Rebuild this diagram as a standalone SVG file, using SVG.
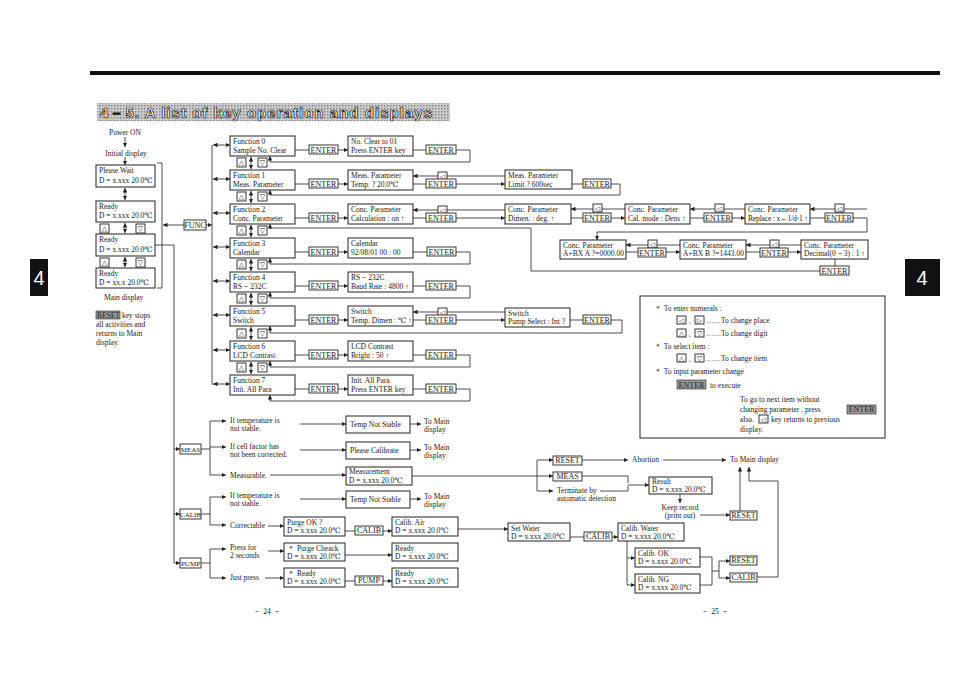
<svg xmlns="http://www.w3.org/2000/svg" width="954" height="674" viewBox="0 0 954 674">
<defs>
<marker id="a" viewBox="0 0 6 6" refX="6" refY="3" markerWidth="4.5" markerHeight="4.5" markerUnits="userSpaceOnUse" orient="auto-start-reverse"><path d="M0,0 L6,3 L0,6 z" fill="#222"/></marker>
<pattern id="dots" width="3" height="3" patternUnits="userSpaceOnUse"><rect width="3" height="3" fill="#ccc"/><rect width="1.5" height="1.5" fill="#888"/></pattern>
</defs>
<style>
text{font-family:"Liberation Serif","DejaVu Serif",serif;font-size:7.5px;fill:#222}
.bx{fill:#fff;stroke:#222;stroke-width:1}
.k{fill:#fff;stroke:#222;stroke-width:0.9}
.kt{text-anchor:middle;font-size:8px}
.g{font-family:"DejaVu Sans",sans-serif;font-size:7px;text-anchor:middle}
.c path,.c line{fill:none;stroke:#222;stroke-width:0.8}
.ar{marker-end:url(#a)}
.ab{marker-start:url(#a);marker-end:url(#a)}
</style>
<rect width="954" height="674" fill="#fff"/>
<rect x="90" y="71" width="850" height="4" fill="#111"/>
<rect x="97" y="103" width="353" height="18" fill="url(#dots)"/>
<text x="100" y="118" style="font-family:'Liberation Sans',sans-serif;font-size:15px;font-weight:bold;fill:#fff;stroke:#111;stroke-width:0.7" textLength="332">4－5. A list of key operation and displays</text>
<rect x="30" y="259" width="18" height="37" fill="#111"/><text x="39" y="285" style="font-family:'Liberation Sans',sans-serif;font-size:20px;fill:#fff;text-anchor:middle">4</text>
<rect x="905" y="259" width="35" height="37" fill="#111"/><text x="922" y="285" style="font-family:'Liberation Sans',sans-serif;font-size:20px;fill:#fff;text-anchor:middle">4</text>

<g class="c" id="connectors">
<line class="ar" x1="125" y1="137" x2="125" y2="147"/>
<line class="ar" x1="125" y1="157" x2="125" y2="165"/>
<line class="ab" x1="125" y1="188" x2="125" y2="200"/>
<line class="ab" x1="125" y1="223" x2="125" y2="233"/>
<line class="ab" x1="125" y1="257" x2="125" y2="267"/>
<path d="M157,163 H162 V288 H157"/>
<path d="M155,245 H174 V563"/>
<line class="ar" x1="184" y1="225" x2="163" y2="225"/>
<line class="ar" x1="206" y1="225" x2="212" y2="225"/>
<line x1="212" y1="145" x2="212" y2="385"/>
<line class="ab" x1="213" y1="145" x2="230" y2="145"/>
<line class="ab" x1="213" y1="179" x2="230" y2="179"/>
<line class="ab" x1="213" y1="213" x2="230" y2="213"/>
<line class="ab" x1="213" y1="247" x2="230" y2="247"/>
<line class="ab" x1="213" y1="281" x2="230" y2="281"/>
<line class="ab" x1="213" y1="315" x2="230" y2="315"/>
<line class="ab" x1="213" y1="350" x2="230" y2="350"/>
<line class="ab" x1="213" y1="384" x2="230" y2="384"/>
<line class="ab" x1="251" y1="157" x2="251" y2="169"/>
<line class="ab" x1="251" y1="191" x2="251" y2="203"/>
<line class="ab" x1="251" y1="225" x2="251" y2="237"/>
<line class="ab" x1="251" y1="259" x2="251" y2="271"/>
<line class="ab" x1="251" y1="293" x2="251" y2="305"/>
<line class="ab" x1="251" y1="327" x2="251" y2="340"/>
<line class="ab" x1="251" y1="362" x2="251" y2="374"/>
<line x1="295" y1="150" x2="309" y2="150"/><line class="ar" x1="338" y1="150" x2="348" y2="150"/>
<line x1="413" y1="150" x2="426" y2="150"/><path class="ar" d="M456,150 H470 V162 H270 V156"/>
<line x1="295" y1="184" x2="309" y2="184"/><line class="ar" x1="338" y1="184" x2="348" y2="184"/>
<line class="ar" x1="505" y1="176" x2="413" y2="176"/>
<line x1="413" y1="184" x2="426" y2="184"/><line class="ar" x1="456" y1="184" x2="505" y2="184"/>
<line x1="572" y1="184" x2="583" y2="184"/><path class="ar" d="M611,184 H620 V195 H270 V190"/>
<line x1="295" y1="218" x2="309" y2="218"/><line class="ar" x1="338" y1="218" x2="348" y2="218"/>
<line class="ar" x1="505" y1="210" x2="413" y2="210"/>
<line x1="413" y1="218" x2="426" y2="218"/><line class="ar" x1="456" y1="218" x2="505" y2="218"/>
<line class="ar" x1="625" y1="209" x2="571" y2="209"/>
<line class="ar" x1="571" y1="218" x2="625" y2="218"/>
<line class="ar" x1="745" y1="209" x2="690" y2="209"/>
<line class="ar" x1="690" y1="218" x2="745" y2="218"/>
<line class="ar" x1="867" y1="209" x2="810" y2="209"/>
<line x1="810" y1="218" x2="825" y2="218"/>
<path class="ar" d="M853,218 H867 V232 H597 V240"/>
<line class="ar" x1="680" y1="245" x2="626" y2="245"/>
<line class="ar" x1="626" y1="252" x2="680" y2="252"/>
<line class="ar" x1="801" y1="245" x2="746" y2="245"/>
<line class="ar" x1="746" y1="252" x2="801" y2="252"/>
<line x1="835" y1="259" x2="835" y2="266"/>
<path class="ar" d="M820,271 H531 V228 H270 V224"/>
<line x1="295" y1="252" x2="309" y2="252"/><line class="ar" x1="338" y1="252" x2="348" y2="252"/>
<line x1="413" y1="252" x2="427" y2="252"/><path class="ar" d="M456,252 H470 V264 H270 V258"/>
<line x1="295" y1="286" x2="309" y2="286"/><line class="ar" x1="338" y1="286" x2="348" y2="286"/>
<line x1="413" y1="286" x2="426" y2="286"/><path class="ar" d="M456,286 H470 V298 H270 V292"/>
<line x1="295" y1="320" x2="309" y2="320"/><line class="ar" x1="338" y1="320" x2="348" y2="320"/>
<line class="ar" x1="505" y1="312" x2="413" y2="312"/>
<line x1="413" y1="320" x2="426" y2="320"/><line class="ar" x1="456" y1="320" x2="505" y2="320"/>
<line x1="570" y1="320" x2="583" y2="320"/><path class="ar" d="M611,320 H622 V333 H270 V326"/>
<line x1="295" y1="355" x2="309" y2="355"/><line class="ar" x1="338" y1="355" x2="348" y2="355"/>
<line x1="413" y1="355" x2="426" y2="355"/><path class="ar" d="M456,355 H470 V367 H270 V361"/>
<line x1="295" y1="389" x2="309" y2="389"/><line class="ar" x1="338" y1="389" x2="348" y2="389"/>
<line x1="413" y1="389" x2="426" y2="389"/><path class="ar" d="M456,389 H470 V401 H270 V395"/>
<line class="ar" x1="174" y1="449" x2="180" y2="449"/>
<line class="ar" x1="174" y1="514" x2="180" y2="514"/>
<line class="ar" x1="174" y1="563" x2="180" y2="563"/>
<path d="M201,449 H210"/><path d="M210,421 V475"/>
<line class="ar" x1="210" y1="421" x2="226" y2="421"/>
<line class="ar" x1="210" y1="447" x2="226" y2="447"/>
<line class="ar" x1="210" y1="475" x2="226" y2="475"/>
<line class="ar" x1="300" y1="424" x2="346" y2="424"/>
<line class="ar" x1="300" y1="450" x2="346" y2="450"/>
<line class="ar" x1="270" y1="475" x2="346" y2="475"/>
<line class="ar" x1="410" y1="424" x2="421" y2="424"/>
<line class="ar" x1="410" y1="450" x2="421" y2="450"/>
<path d="M412,476 H537"/><path d="M537,460 V491"/>
<line class="ar" x1="537" y1="460" x2="553" y2="460"/>
<line class="ar" x1="537" y1="476" x2="553" y2="476"/>
<line class="ar" x1="537" y1="491" x2="553" y2="491"/>
<line class="ar" x1="582" y1="460" x2="628" y2="460"/>
<line class="ar" x1="663" y1="460" x2="726" y2="460"/>
<path d="M582,476 H628 V483"/><path d="M600,491 H628 V486"/>
<line class="ar" x1="628" y1="485" x2="649" y2="485"/>
<line class="ar" x1="680" y1="494" x2="680" y2="503"/>
<line class="ar" x1="700" y1="515" x2="730" y2="515"/>
<line class="ar" x1="740" y1="511" x2="740" y2="467"/>
<path class="ar" d="M757,577 H778 V481 H749 V467"/>
<path d="M201,514 H210"/><path d="M210,497 V525"/>
<line class="ar" x1="210" y1="497" x2="226" y2="497"/>
<line class="ar" x1="210" y1="525" x2="226" y2="525"/>
<line class="ar" x1="300" y1="499" x2="346" y2="499"/>
<line class="ar" x1="410" y1="499" x2="421" y2="499"/>
<line class="ar" x1="268" y1="526" x2="284" y2="526"/>
<line x1="345" y1="531" x2="355" y2="531"/><line class="ar" x1="383" y1="531" x2="392" y2="531"/>
<line class="ar" x1="458" y1="529" x2="508" y2="529"/>
<line x1="570" y1="537" x2="584" y2="537"/><line class="ar" x1="612" y1="537" x2="618" y2="537"/>
<path d="M627,541 V585"/>
<line class="ar" x1="627" y1="558" x2="635" y2="558"/>
<line class="ar" x1="627" y1="585" x2="635" y2="585"/>
<path d="M700,557 H712 V585 H700"/><path d="M712,571 H719"/><path d="M719,561 V578"/>
<line class="ar" x1="719" y1="561" x2="730" y2="561"/>
<line class="ar" x1="719" y1="578" x2="730" y2="578"/>
<path d="M201,563 H210"/><path d="M210,549 V578"/>
<line class="ar" x1="210" y1="549" x2="226" y2="549"/>
<line class="ar" x1="210" y1="578" x2="226" y2="578"/>
<line class="ar" x1="268" y1="551" x2="284" y2="551"/>
<line class="ar" x1="265" y1="578" x2="284" y2="578"/>
<line class="ar" x1="345" y1="555" x2="392" y2="555"/>
<line x1="345" y1="581" x2="355" y2="581"/><line class="ar" x1="383" y1="581" x2="392" y2="581"/>
</g>

<g id="left">
<text x="125" y="135" text-anchor="middle">Power ON</text>
<text x="126" y="156" text-anchor="middle">Initial display</text>
<g id="n-wait"><rect class="bx" x="96" y="165" width="59" height="22"/><text x="99" y="173">Please Wait</text><text x="99" y="183">D = x.xxx  20.0℃</text></g>
<g id="n-ready1"><rect class="bx" x="96" y="201" width="59" height="21"/><text x="99" y="209">Ready</text><text x="99" y="218">D = x.xxx  20.0℃</text></g>
<rect class="k" x="100" y="224" width="9" height="9"/><text class="g" x="104.5" y="231">△</text>
<rect class="k" x="136" y="224" width="9" height="9"/><text class="g" x="140.5" y="231">▽</text>
<g id="n-ready2"><rect class="bx" x="96" y="234" width="59" height="22"/><text x="99" y="242">Ready</text><text x="99" y="252">D = x.xxx  20.0℃</text></g>
<rect class="k" x="100" y="258" width="9" height="9"/><text class="g" x="104.5" y="265">△</text>
<rect class="k" x="136" y="258" width="9" height="9"/><text class="g" x="140.5" y="265">▽</text>
<g id="n-ready3"><rect class="bx" x="96" y="268" width="59" height="20"/><text x="99" y="276">Ready</text><text x="99" y="285">D = xx.x  20.0℃</text></g>
<text x="104" y="300">Main display</text>
<rect x="96" y="311" width="24" height="8" fill="#999" stroke="#222" stroke-width="0.6"/>
<text x="97" y="318">RESET</text><text x="122" y="318">key stops</text>
<text x="96" y="327">all activities and</text><text x="96" y="336">returns to Main</text><text x="96" y="345">display.</text>
<g id="n-func"><rect class="k" x="184" y="220" width="22" height="10"/><text class="kt" x="195" y="228">FUNC</text></g>
</g>

<g id="functions">
<g id="f0"><rect class="bx" x="230" y="136" width="65" height="20"/><text x="233" y="143.5">Function 0</text><text x="233" y="152.5">Sample No. Clear</text></g>
<g id="f1"><rect class="bx" x="230" y="170" width="65" height="20"/><text x="233" y="177.5">Function 1</text><text x="233" y="186.5">Meas. Parameter</text></g>
<g id="f2"><rect class="bx" x="230" y="204" width="65" height="20"/><text x="233" y="211.5">Function 2</text><text x="233" y="220.5">Conc. Parameter</text></g>
<g id="f3"><rect class="bx" x="230" y="238" width="65" height="20"/><text x="233" y="245.5">Function 3</text><text x="233" y="254.5">Calendar</text></g>
<g id="f4"><rect class="bx" x="230" y="272" width="65" height="20"/><text x="233" y="279.5">Function 4</text><text x="233" y="288.5">RS－232C</text></g>
<g id="f5"><rect class="bx" x="230" y="306" width="65" height="20"/><text x="233" y="313.5">Function 5</text><text x="233" y="322.5">Switch</text></g>
<g id="f6"><rect class="bx" x="230" y="341" width="65" height="20"/><text x="233" y="348.5">Function 6</text><text x="233" y="357.5">LCD Contrast</text></g>
<g id="f7"><rect class="bx" x="230" y="375" width="65" height="20"/><text x="233" y="382.5">Function 7</text><text x="233" y="391.5">Init. All Para</text></g>
<g id="updown">
<rect class="k" x="237" y="158" width="9" height="9"/><text class="g" x="241.5" y="165">△</text><rect class="k" x="258" y="158" width="9" height="9"/><text class="g" x="262.5" y="165">▽</text>
<rect class="k" x="237" y="192" width="9" height="9"/><text class="g" x="241.5" y="199">△</text><rect class="k" x="258" y="192" width="9" height="9"/><text class="g" x="262.5" y="199">▽</text>
<rect class="k" x="237" y="226" width="9" height="9"/><text class="g" x="241.5" y="233">△</text><rect class="k" x="258" y="226" width="9" height="9"/><text class="g" x="262.5" y="233">▽</text>
<rect class="k" x="237" y="260" width="9" height="9"/><text class="g" x="241.5" y="267">△</text><rect class="k" x="258" y="260" width="9" height="9"/><text class="g" x="262.5" y="267">▽</text>
<rect class="k" x="237" y="294" width="9" height="9"/><text class="g" x="241.5" y="301">△</text><rect class="k" x="258" y="294" width="9" height="9"/><text class="g" x="262.5" y="301">▽</text>
<rect class="k" x="237" y="329" width="9" height="9"/><text class="g" x="241.5" y="336">△</text><rect class="k" x="258" y="329" width="9" height="9"/><text class="g" x="262.5" y="336">▽</text>
<rect class="k" x="237" y="363" width="9" height="9"/><text class="g" x="241.5" y="370">△</text><rect class="k" x="258" y="363" width="9" height="9"/><text class="g" x="262.5" y="370">▽</text>
</g>
</g>

<g id="keys">
<rect class="k" x="309" y="145" width="29" height="9"/><text class="kt" x="323.5" y="152.5">ENTER</text>
<rect class="k" x="426" y="145" width="30" height="9"/><text class="kt" x="441" y="152.5">ENTER</text>
<rect class="k" x="309" y="179" width="29" height="9"/><text class="kt" x="323.5" y="186.5">ENTER</text>
<rect class="k" x="438" y="172" width="9" height="8"/><text class="g" x="442.5" y="179">◁</text>
<rect class="k" x="426" y="179" width="30" height="9"/><text class="kt" x="441" y="186.5">ENTER</text>
<rect class="k" x="583" y="179" width="28" height="9"/><text class="kt" x="597" y="186.5">ENTER</text>
<rect class="k" x="309" y="213" width="29" height="9"/><text class="kt" x="323.5" y="220.5">ENTER</text>
<rect class="k" x="438" y="206" width="9" height="8"/><text class="g" x="442.5" y="213">◁</text>
<rect class="k" x="426" y="213" width="30" height="9"/><text class="kt" x="441" y="220.5">ENTER</text>
<rect class="k" x="593" y="204" width="9" height="8"/><text class="g" x="597.5" y="211">◁</text>
<rect class="k" x="583" y="213" width="28" height="9"/><text class="kt" x="597" y="220.5">ENTER</text>
<rect class="k" x="715" y="204" width="9" height="8"/><text class="g" x="719.5" y="211">◁</text>
<rect class="k" x="704" y="213" width="28" height="9"/><text class="kt" x="718" y="220.5">ENTER</text>
<rect class="k" x="835" y="204" width="9" height="8"/><text class="g" x="839.5" y="211">◁</text>
<rect class="k" x="825" y="213" width="28" height="9"/><text class="kt" x="839" y="220.5">ENTER</text>
<rect class="k" x="648" y="240" width="9" height="8"/><text class="g" x="652.5" y="247">◁</text>
<rect class="k" x="638" y="248" width="28" height="9"/><text class="kt" x="652" y="255.5">ENTER</text>
<rect class="k" x="770" y="240" width="9" height="8"/><text class="g" x="774.5" y="247">◁</text>
<rect class="k" x="760" y="248" width="28" height="9"/><text class="kt" x="774" y="255.5">ENTER</text>
<rect class="k" x="820" y="266" width="29" height="9"/><text class="kt" x="834.5" y="273.5">ENTER</text>
<rect class="k" x="309" y="247" width="29" height="9"/><text class="kt" x="323.5" y="254.5">ENTER</text>
<rect class="k" x="427" y="247" width="29" height="9"/><text class="kt" x="441.5" y="254.5">ENTER</text>
<rect class="k" x="309" y="281" width="29" height="9"/><text class="kt" x="323.5" y="288.5">ENTER</text>
<rect class="k" x="426" y="281" width="30" height="9"/><text class="kt" x="441" y="288.5">ENTER</text>
<rect class="k" x="309" y="315" width="29" height="9"/><text class="kt" x="323.5" y="322.5">ENTER</text>
<rect class="k" x="438" y="308" width="9" height="8"/><text class="g" x="442.5" y="315">◁</text>
<rect class="k" x="426" y="315" width="30" height="9"/><text class="kt" x="441" y="322.5">ENTER</text>
<rect class="k" x="583" y="315" width="28" height="9"/><text class="kt" x="597" y="322.5">ENTER</text>
<rect class="k" x="309" y="350" width="29" height="9"/><text class="kt" x="323.5" y="357.5">ENTER</text>
<rect class="k" x="426" y="350" width="30" height="9"/><text class="kt" x="441" y="357.5">ENTER</text>
<rect class="k" x="309" y="384" width="29" height="9"/><text class="kt" x="323.5" y="391.5">ENTER</text>
<rect class="k" x="426" y="384" width="30" height="9"/><text class="kt" x="441" y="391.5">ENTER</text>
</g>

<g id="displays">
<g id="d0"><rect class="bx" x="348" y="136" width="65" height="20"/><text x="351" y="143.5">No. Clear to 01</text><text x="351" y="152.5">Press ENTER key</text></g>
<g id="d1"><rect class="bx" x="348" y="170" width="65" height="20"/><text x="351" y="177.5">Meas. Parameter</text><text x="351" y="186.5">Temp. ? 20.0℃</text></g>
<g id="d1b"><rect class="bx" x="505" y="170" width="67" height="19"/><text x="508" y="177.5">Meas. Parameter</text><text x="508" y="186.5">Limit ?  600sec</text></g>
<g id="d2"><rect class="bx" x="348" y="204" width="65" height="20"/><text x="351" y="211.5">Conc. Parameter</text><text x="351" y="220.5">Calculation : on ↑</text></g>
<g id="d2b"><rect class="bx" x="505" y="204" width="66" height="20"/><text x="508" y="211.5">Conc. Parameter</text><text x="508" y="220.5">Dimen.  : deg. ↑</text></g>
<g id="d2c"><rect class="bx" x="625" y="204" width="65" height="20"/><text x="628" y="211.5">Conc. Parameter</text><text x="628" y="220.5">Cal. mode : Dens ↑</text></g>
<g id="d2d"><rect class="bx" x="745" y="204" width="65" height="20"/><text x="748" y="211.5">Conc. Parameter</text><text x="748" y="220.5" textLength="60">Replace : x←1/d-1 ↑</text></g>
<g id="d2e"><rect class="bx" x="560" y="240" width="66" height="19"/><text x="563" y="247.5">Conc. Parameter</text><text x="563" y="256" textLength="61">A+BX  A ?=0000.00</text></g>
<g id="d2f"><rect class="bx" x="680" y="240" width="66" height="19"/><text x="683" y="247.5">Conc. Parameter</text><text x="683" y="256" textLength="61">A+BX  B ?=1443.00</text></g>
<g id="d2g"><rect class="bx" x="801" y="240" width="67" height="19"/><text x="804" y="247.5">Conc. Parameter</text><text x="804" y="256">Decimal(0－3) : 1 ↑</text></g>
<g id="d3"><rect class="bx" x="348" y="238" width="65" height="20"/><text x="351" y="245.5">Calendar</text><text x="351" y="254.5">92/08/01  00 : 00</text></g>
<g id="d4"><rect class="bx" x="348" y="272" width="65" height="20"/><text x="351" y="279.5">RS－232C</text><text x="351" y="288.5">Baud Rate : 4800 ↑</text></g>
<g id="d5"><rect class="bx" x="348" y="306" width="65" height="20"/><text x="351" y="313.5">Switch</text><text x="351" y="322.5">Temp. Dimen : ℃ ↑</text></g>
<g id="d5b"><rect class="bx" x="505" y="308" width="65" height="19"/><text x="508" y="315.5">Switch</text><text x="508" y="324">Pump Select : Int ?</text></g>
<g id="d6"><rect class="bx" x="348" y="341" width="65" height="20"/><text x="351" y="348.5">LCD Contrast</text><text x="351" y="357.5">Bright : 50 ↑</text></g>
<g id="d7"><rect class="bx" x="348" y="375" width="65" height="20"/><text x="351" y="382.5">Init. All Para.</text><text x="351" y="391.5">Press ENTER key</text></g>
</g>

<g id="legend">
<rect x="640" y="296" width="245" height="142" fill="#fff" stroke="#222" stroke-width="1"/>
<text x="654" y="311">＊ To enter numerals :</text>
<rect class="k" x="677" y="316" width="9" height="8"/><text class="g" x="681.5" y="323">◁</text><text x="688" y="323">、</text>
<rect class="k" x="695" y="316" width="9" height="8"/><text class="g" x="699.5" y="323">▷</text><text x="706" y="323">……To change place</text>
<rect class="k" x="677" y="329" width="9" height="8"/><text class="g" x="681.5" y="336">△</text><text x="688" y="336">、</text>
<rect class="k" x="695" y="329" width="9" height="8"/><text class="g" x="699.5" y="336">▽</text><text x="706" y="336">……To change digit</text>
<text x="654" y="349">＊ To select item :</text>
<rect class="k" x="677" y="354" width="9" height="8"/><text class="g" x="681.5" y="361">△</text><text x="688" y="361">、</text>
<rect class="k" x="695" y="354" width="9" height="8"/><text class="g" x="699.5" y="361">▽</text><text x="706" y="361">……To change item</text>
<text x="654" y="374">＊ To input parameter change</text>
<rect x="677" y="380" width="29" height="9" fill="#999" stroke="#222" stroke-width="0.6"/><text class="kt" x="691.5" y="387.5">ENTER</text><text x="710" y="387.5">to execute</text>
<text x="740" y="402">To go to next item without</text>
<text x="740" y="412">changing parameter , press</text>
<rect x="847" y="405" width="29" height="9" fill="#999" stroke="#222" stroke-width="0.6"/><text class="kt" x="861.5" y="412">ENTER</text>
<text x="740" y="422">also.</text><rect class="k" x="759" y="415" width="9" height="8"/><text class="g" x="763.5" y="422">◁</text><text x="771" y="422">key returns to previous</text>
<text x="740" y="432">display.</text>
</g>

<g id="lower">
<g id="k-meas"><rect class="k" x="180" y="444" width="21" height="10"/><text class="kt" x="190.5" y="452" style="font-size:7px">MEAS</text></g>
<g id="k-calib"><rect class="k" x="180" y="509" width="21" height="10"/><text class="kt" x="190.5" y="517" style="font-size:7px">CALIB</text></g>
<g id="k-pump"><rect class="k" x="180" y="558" width="21" height="10"/><text class="kt" x="190.5" y="566" style="font-size:7px">PUMP</text></g>
<text x="230" y="423">If temperature is</text><text x="230" y="431">not stable.</text>
<text x="230" y="449">If cell factor has</text><text x="230" y="457">not been corrected.</text>
<text x="230" y="478">Measurable.</text>
<g id="m1"><rect class="bx" x="346" y="416" width="64" height="17"/><text x="350" y="427">Temp Not Stable</text></g>
<text x="424" y="424">To Main</text><text x="424" y="432">display</text>
<g id="m2"><rect class="bx" x="346" y="442" width="64" height="17"/><text x="350" y="453">Please Calibrate</text></g>
<text x="424" y="450">To Main</text><text x="424" y="458">display</text>
<g id="m3"><rect class="bx" x="346" y="467" width="66" height="18"/><text x="349" y="474">Measurement</text><text x="349" y="482.5">D = x.xxx  20.0℃</text></g>
<g id="k-reset1"><rect class="k" x="553" y="456" width="29" height="9"/><text class="kt" x="567.5" y="463">RESET</text></g>
<g id="k-meas2"><rect class="k" x="553" y="472" width="29" height="9"/><text class="kt" x="567.5" y="479">MEAS</text></g>
<text x="557" y="493">Terminate by</text><text x="557" y="501">automatic detection</text>
<text x="632" y="462">Abortion</text>
<text x="730" y="462">To Main display</text>
<g id="m4"><rect class="bx" x="649" y="477" width="63" height="17"/><text x="652" y="484">Result</text><text x="652" y="492">D = x.xxx  20.0℃</text></g>
<text x="680" y="510" text-anchor="middle">Keep record</text><text x="680" y="518" text-anchor="middle">(print out)</text>
<g id="k-reset2"><rect class="k" x="730" y="511" width="27" height="9"/><text class="kt" x="743.5" y="518">RESET</text></g>
<text x="230" y="498">If temperature is</text><text x="230" y="506">not stable.</text>
<g id="c1"><rect class="bx" x="346" y="491" width="64" height="17"/><text x="350" y="502">Temp Not Stable</text></g>
<text x="424" y="499">To Main</text><text x="424" y="507">display</text>
<text x="230" y="528">Correctable</text>
<g id="c2"><rect class="bx" x="284" y="517" width="61" height="19"/><text x="287" y="524.5">Purge OK ?</text><text x="287" y="533">D = x.xxx  20.0℃</text></g>
<g id="k-calib2"><rect class="k" x="355" y="526" width="28" height="9"/><text class="kt" x="369" y="533">CALIB</text></g>
<g id="c3"><rect class="bx" x="392" y="517" width="66" height="19"/><text x="395" y="524.5">Calib. Air</text><text x="395" y="533">D = x.xxx  20.0℃</text></g>
<g id="c4"><rect class="bx" x="508" y="523" width="62" height="18"/><text x="511" y="530.5">Set Water</text><text x="511" y="539">D = x.xxx  20.0℃</text></g>
<g id="k-calib3"><rect class="k" x="584" y="532" width="28" height="9"/><text class="kt" x="598" y="539">CALIB</text></g>
<g id="c5"><rect class="bx" x="618" y="523" width="66" height="18"/><text x="621" y="530.5">Calib. Water</text><text x="621" y="539">D = x.xxx  20.0℃</text></g>
<g id="c6"><rect class="bx" x="635" y="548" width="65" height="19"/><text x="638" y="555.5">Calib. OK</text><text x="638" y="564">D = x.xxx  20.0℃</text></g>
<g id="c7"><rect class="bx" x="635" y="574" width="65" height="19"/><text x="638" y="581.5">Calib. NG</text><text x="638" y="590">D = x.xxx  20.0℃</text></g>
<g id="k-reset3"><rect class="k" x="730" y="556" width="27" height="9"/><text class="kt" x="743.5" y="563">RESET</text></g>
<g id="k-calib4"><rect class="k" x="730" y="573" width="27" height="9"/><text class="kt" x="743.5" y="580">CALIB</text></g>
<text x="230" y="550">Press for</text><text x="230" y="558">2 seconds</text>
<text x="230" y="580">Just press</text>
<g id="p1"><rect class="bx" x="284" y="543" width="61" height="18"/><text x="287" y="550.5">＊ Purge Cheack</text><text x="287" y="559">D = x.xxx  20.0℃</text></g>
<g id="p2"><rect class="bx" x="392" y="543" width="66" height="18"/><text x="395" y="550.5">Ready</text><text x="395" y="559">D = x.xxx  20.0℃</text></g>
<g id="p3"><rect class="bx" x="284" y="568" width="61" height="19"/><text x="287" y="575.5">＊ Ready</text><text x="287" y="584">D = x.xxx  20.0℃</text></g>
<g id="k-pump2"><rect class="k" x="355" y="576" width="28" height="9"/><text class="kt" x="369" y="583">PUMP</text></g>
<g id="p4"><rect class="bx" x="392" y="568" width="66" height="19"/><text x="395" y="575.5">Ready</text><text x="395" y="584">D = x.xxx  20.0℃</text></g>
</g>
<text x="267" y="614" text-anchor="middle">－ 24 －</text>
<text x="715" y="614" text-anchor="middle">－ 25 －</text>
</svg>
